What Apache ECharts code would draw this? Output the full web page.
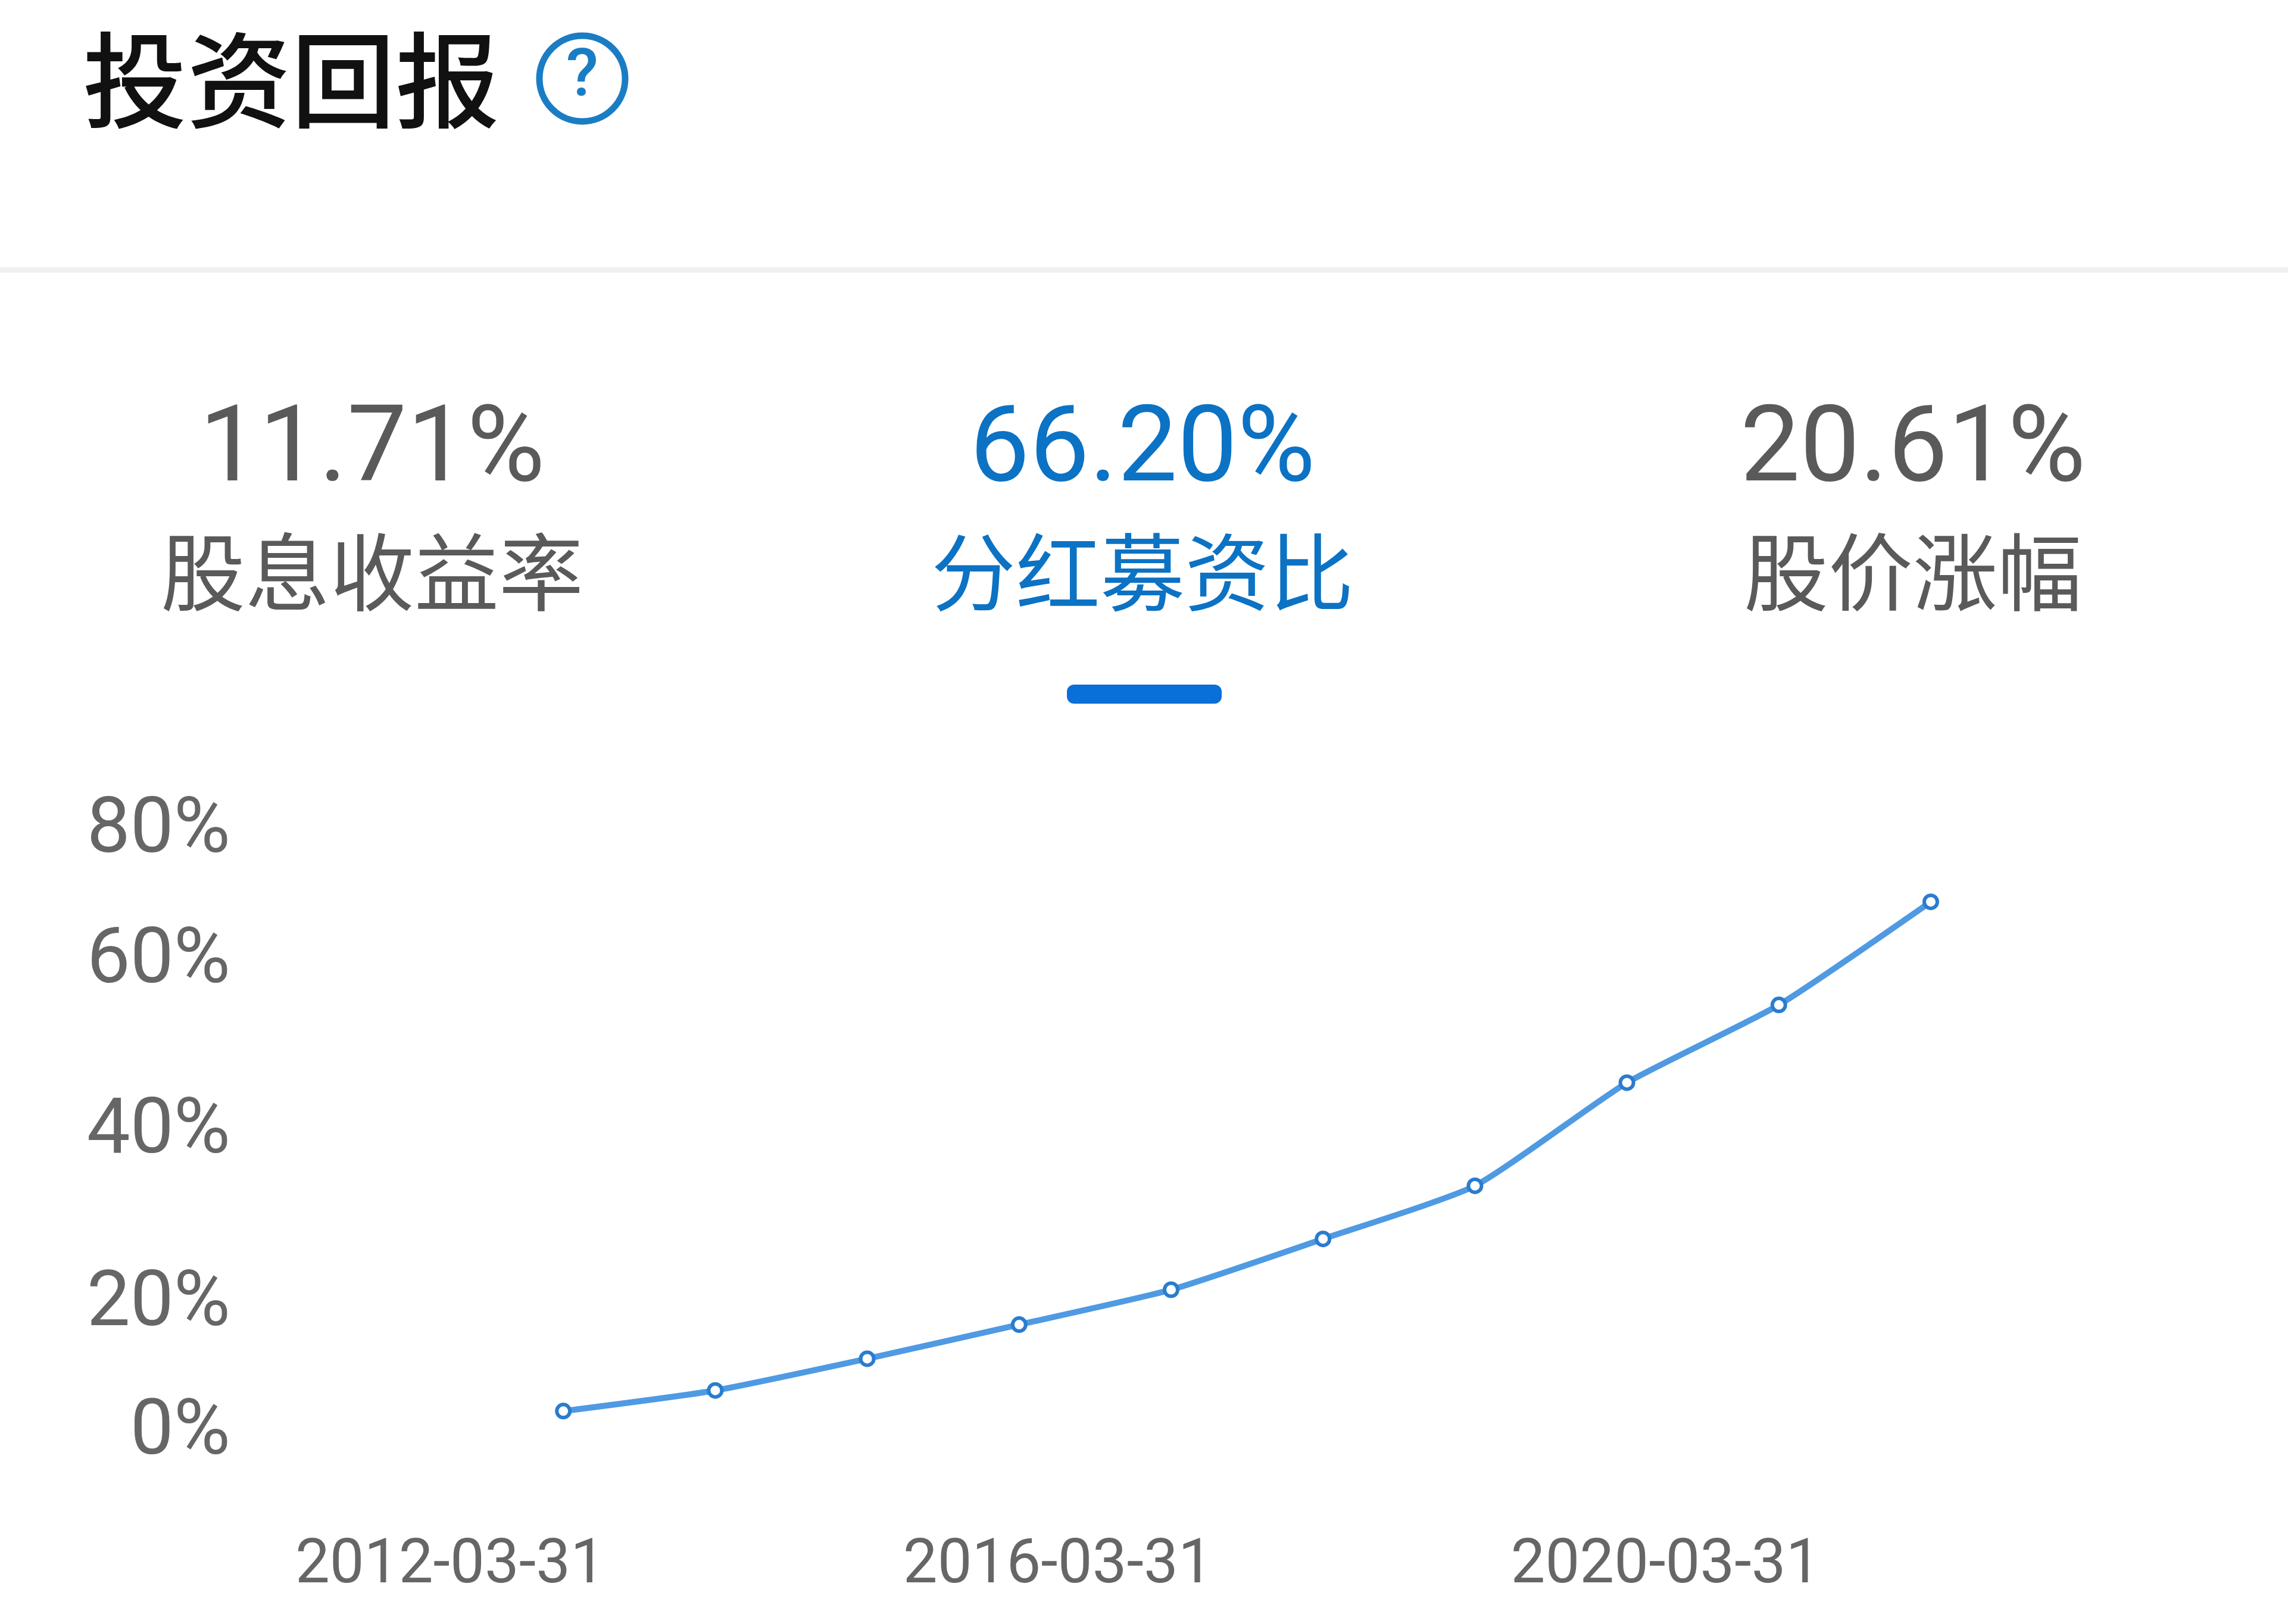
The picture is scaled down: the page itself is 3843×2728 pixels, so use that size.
<!DOCTYPE html>
<html><head><meta charset="utf-8">
<script src="https://cdn.jsdelivr.net/npm/echarts@6/dist/echarts.min.js"></script>
<style>html,body{margin:0;padding:0;background:#fff}#c{width:3843px;height:2728px}</style>
</head><body><div id="c"></div>
<script>
const titleText = '投资回报';
const statValues = ['11.71%', '66.20%', '20.61%'];
const statLabels = ['股息收益率', '分红募资比', '股价涨幅'];
const categories = ['2012-03-31','2013-03-31','2014-03-31','2015-03-31','2016-03-31','2017-03-31','2018-03-31','2019-03-31','2020-03-31','2021-03-31','2022-03-31'];
const ratioValues = [null, 2.0, 4.6, 8.6, 12.9, 17.3, 23.7, 30.4, 43.4, 53.2, 66.2];
const yTickLabels = ['0%', '20%', '40%', '60%', '80%'];
const yTickValues = [0, 16.2, 37.9, 59.4, 75.8];

const font = 'Roboto, "Noto Sans CJK SC", sans-serif';
const cjk = '"Noto Sans CJK SC", sans-serif';
const grey = '#5a5a5a', blue = '#0c72c4';
const statX = [625, 1919, 3213];

const graphic = [
  {type:'text', style:{text:titleText, x:139, y:134, fill:'#111', fontFamily:cjk, fontWeight:500, fontSize:175, textAlign:'left', textVerticalAlign:'middle'}},
  {type:'circle', shape:{cx:978, cy:132, r:72}, style:{fill:'none', stroke:'#1a7dc4', lineWidth:11}},
  {type:'text', style:{text:'?', x:978, y:132, fill:'#1a7dc4', fontFamily:font, fontWeight:500, fontSize:112, textAlign:'center', textVerticalAlign:'middle'}},
  {type:'rect', shape:{x:0, y:449, width:3843, height:9}, style:{fill:'#f0f0f0'}},
  {type:'rect', shape:{x:1792, y:1150, width:260, height:32, r:12}, style:{fill:'#0a6fd8'}}
];
statValues.forEach((v, i) => {
  const col = i === 1 ? blue : grey;
  graphic.push({type:'text', style:{text:v, x:statX[i], y:762, fill:col, fontFamily:font, fontSize:179, textAlign:'center', textVerticalAlign:'middle'}});
  graphic.push({type:'text', style:{text:statLabels[i], x:statX[i], y:961, fill:col, fontFamily:cjk, fontWeight:400, fontSize:142, textAlign:'center', textVerticalAlign:'middle'}});
});

const chart = echarts.init(document.getElementById('c'), null, {renderer:'canvas'});
chart.setOption({
  animation:false,
  backgroundColor:'#fff',
  graphic,
  grid:{left:691, right:600, top:1331, bottom:331},
  xAxis:{type:'category', boundaryGap:false, data:categories,
    axisLine:{show:false}, axisTick:{show:false}, splitLine:{show:false},
    axisLabel:{interval:3, color:'#666', fontFamily:font, fontSize:103, margin:184, padding:[0,0,0,130]}},
  yAxis:{type:'value', min:0, max:80,
    axisLine:{show:false}, axisTick:{show:false}, splitLine:{show:false},
    axisLabel:{customValues:yTickValues, color:'#666', fontFamily:font, fontSize:130, margin:304, verticalAlign:'top', lineHeight:24,
      formatter:(v, i) => yTickLabels[yTickValues.indexOf(v)]}},
  series:[{type:'line', data:ratioValues, smooth:0.18, connectNulls:false,
    symbol:'circle', symbolSize:22, showAllSymbol:true,
    lineStyle:{color:'#4f9ae2', width:10},
    itemStyle:{color:'#fff', borderWidth:6, borderColor:'#2a7cce'}}]
});
</script></body></html>
